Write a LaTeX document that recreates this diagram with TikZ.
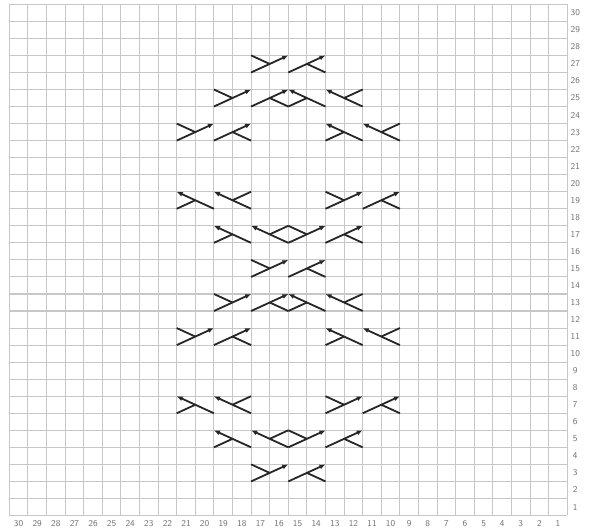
\documentclass[tikz,border=0pt]{standalone}
\usepackage{tikz}
\usetikzlibrary{arrows.meta}
\tikzset{
  chart-grid/.style={draw=black!22, line width=1.1pt},
  chart-label/.style={font=\sffamily\fontsize{9}{10}\selectfont, text=black!55, inner sep=0pt},
  cable-stroke/.style={draw=black!85, line width=1.8pt},
  cable-arrow/.style={cable-stroke, -{Latex[length=6pt, width=5pt]}},
  cable-a/.pic={\draw[cable-arrow] (0,0) -- (2,1); \draw[cable-stroke] (0,1) -- (1,0.5);},
  cable-b/.pic={\draw[cable-arrow] (0,0) -- (2,1); \draw[cable-stroke] (1,0.5) -- (2,0);},
  cable-c/.pic={\draw[cable-arrow] (2,0) -- (0,1); \draw[cable-stroke] (2,1) -- (1,0.5);},
  cable-d/.pic={\draw[cable-arrow] (2,0) -- (0,1); \draw[cable-stroke] (0,0) -- (1,0.5);}
}

\begin{document}
\begin{tikzpicture}[x=18.6pt, y=17.04pt]
  \useasboundingbox (-0.5,-0.91) rectangle (31.1667,30.252);
  \foreach \k in {0,...,30} {
    \draw[chart-grid] (\k,0) -- (\k,30);
    \draw[chart-grid] (0,\k) -- (30,\k);
  }
  \foreach \col in {1,...,30}
    \node[chart-label] (col-\col) at (30.5-\col,-0.46) {\col};
  \foreach \rw in {1,...,30}
    \node[chart-label] (row-\rw) at (30.43,\rw-0.5) {\rw};
  % cables: kind / left column / row
  \foreach \kind/\col/\rw in {a/17/27, b/15/27,
      a/19/25, b/17/25, d/15/25, c/13/25,
      a/21/23, b/19/23, d/13/23, c/11/23,
      d/21/19, c/19/19, a/13/19, b/11/19,
      d/19/17, c/17/17, a/15/17, b/13/17,
      a/17/15, b/15/15,
      a/19/13, b/17/13, d/15/13, c/13/13,
      a/21/11, b/19/11, d/13/11, c/11/11,
      d/21/7, c/19/7, a/13/7, b/11/7,
      d/19/5, c/17/5, a/15/5, b/13/5,
      a/17/3, b/15/3}
    \pic at (30-\col,\rw-1) {cable-\kind};
\end{tikzpicture}
\end{document}
